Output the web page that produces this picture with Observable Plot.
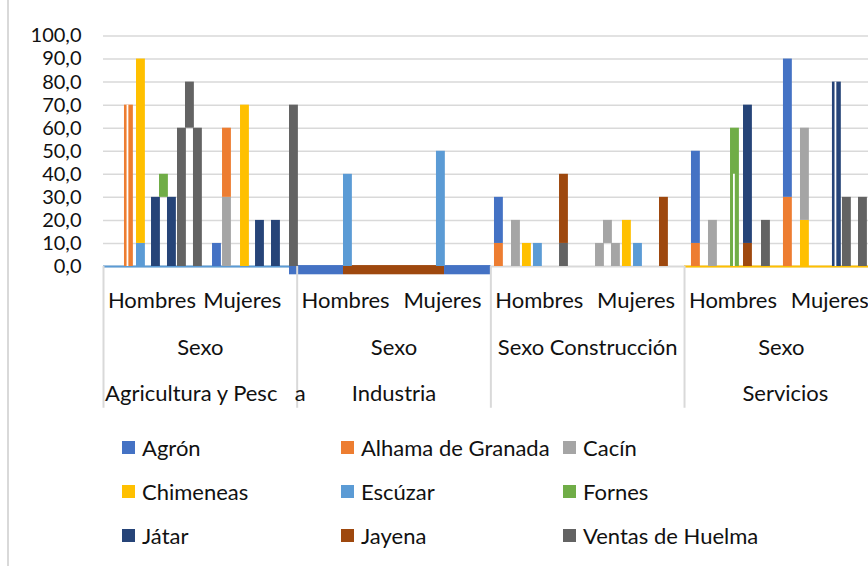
<!DOCTYPE html>
<html><head><meta charset="utf-8">
<script src="https://cdn.jsdelivr.net/npm/d3@7"></script>
<script src="https://cdn.jsdelivr.net/npm/@observablehq/plot@0.6"></script>
<style>
body{margin:0;background:#fff;overflow:hidden;font-family:Lato,sans-serif;}
#wrap{position:relative;width:868px;height:566px;overflow:hidden;}
#frame{position:absolute;left:7px;top:0;width:1.5px;height:566px;background:#d9d9d9;}
#legend{position:absolute;left:122px;top:425px;display:grid;grid-template-columns:219px 222px 220px;grid-auto-rows:44px;}
.item{display:flex;align-items:center;font-size:22px;color:#111;white-space:nowrap;}
.sw{width:13px;height:13px;margin-right:7px;flex:none;}
</style></head><body><div id="wrap"><div id="frame"></div><div id="chart"></div><div id="legend"></div></div>
<script>
const towns = ["Agrón","Alhama de Granada","Cacín","Chimeneas","Escúzar","Fornes","Játar","Jayena","Ventas de Huelma"];
const townColors = ["#4472C4","#ED7D31","#A5A5A5","#FFC000","#5B9BD5","#70AD47","#264478","#9E480E","#636363"];
const sectors = ["Agricultura y Pesca","Industria","Construcción","Servicios"];
const sexes = ["Hombres","Mujeres"];
const groupLabel = "Sexo";
const yTicks = [0,10,20,30,40,50,60,70,80,90,100];

// [category (sector*2+sex), slot within category, town, from, to]
const barSegments = [
  [0, 2.60, "Alhama de Granada", 0, 70],
  [0, 4.09, "Escúzar", 0, 10],
  [0, 4.09, "Chimeneas", 10, 90],
  [0, 5.95, "Játar", 0, 30],
  [0, 6.94, "Fornes", 30, 40],
  [0, 7.93, "Játar", 0, 30],
  [0, 9.17, "Ventas de Huelma", 0, 60],
  [0, 10.16, "Ventas de Huelma", 60, 80],
  [0, 11.15, "Ventas de Huelma", 0, 60],
  [1, 1.51, "Agrón", 0, 10],
  [1, 2.75, "Cacín", 0, 30],
  [1, 2.75, "Alhama de Granada", 30, 60],
  [1, 4.98, "Chimeneas", 0, 70],
  [1, 6.84, "Játar", 0, 20],
  [1, 8.82, "Játar", 0, 20],
  [1, 11.05, "Ventas de Huelma", 0, 70],
  [2, 5.74, "Escúzar", 0, 40],
  [3, 5.26, "Escúzar", 0, 50],
  [4, 0.45, "Alhama de Granada", 0, 10],
  [4, 0.45, "Agrón", 10, 30],
  [4, 2.56, "Cacín", 0, 20],
  [4, 3.92, "Chimeneas", 0, 10],
  [4, 5.28, "Escúzar", 0, 10],
  [4, 8.51, "Ventas de Huelma", 0, 10],
  [4, 8.51, "Jayena", 10, 40],
  [5, 0.97, "Cacín", 0, 10],
  [5, 1.96, "Cacín", 10, 20],
  [5, 2.95, "Cacín", 0, 10],
  [5, 4.31, "Chimeneas", 0, 20],
  [5, 5.68, "Escúzar", 0, 10],
  [5, 8.90, "Jayena", 0, 30],
  [6, 0.86, "Alhama de Granada", 0, 10],
  [6, 0.86, "Agrón", 10, 50],
  [6, 2.97, "Cacín", 0, 20],
  [6, 5.70, "Fornes", 0, 60],
  [6, 7.31, "Jayena", 0, 10],
  [6, 7.31, "Játar", 10, 70],
  [6, 9.54, "Ventas de Huelma", 0, 20],
  [7, 0.26, "Alhama de Granada", 0, 30],
  [7, 0.26, "Agrón", 30, 90],
  [7, 2.37, "Chimeneas", 0, 20],
  [7, 2.37, "Cacín", 20, 60],
  [7, 6.33, "Játar", 0, 80],
  [7, 7.57, "Ventas de Huelma", 0, 30],
  [7, 9.56, "Ventas de Huelma", 0, 30]
];
// white split lines inside some bars: [category, slot, from, to]
const splitLines = [[0, 2.97, 0, 70], [6, 6.12, 0, 40], [7, 6.70, 0, 80]];
// bars hanging below the axis: [town, fromCat, fromSlot, toCat, toSlot, value]
const belowAxis = [
  ["Agrón", 1, 11.05, 2, 5.74, -3.6],
  ["Jayena", 2, 5.74, 3, 6.26, -3.6],
  ["Agrón", 3, 6.26, 4, 0, -3.6]
];
// coloured stretches of the category axis line: [town, fromCat, fromSlot, toCat, toSlot]
const axisStretches = [["Escúzar", 0, 0, 1, 11.05], ["Chimeneas", 6, 0, 8, 0]];

const U = 12; // slots per category
const pos = (c, s) => c * U + s;
const categories = d3.range(8).map(i => ({i, label: sexes[i % 2]}));
const row2 = sectors.map((s, i) => ({i, label: s === "Construcción" ? `${groupLabel} ${s}` : groupLabel}));
const row3 = [
  {x: 0.2, label: "Agricultura y Pesc", anchor: "start"},
  {x: 23.7, label: "a", anchor: "start"},
  {x: 36, label: sectors[1], anchor: "middle"},
  {x: 84.5, label: sectors[3], anchor: "middle"}
];
const sepDepth = -61.5;

const chart = Plot.plot({
  width: 868, height: 420,
  marginLeft: 103, marginRight: 0, marginTop: 35.5, marginBottom: 154,
  style: {fontFamily: "Lato, sans-serif", fontSize: "20px", color: "#111", background: "white"},
  x: {domain: [0, 96], range: [103, 877.7], axis: null},
  y: {domain: [0, 100], range: [266, 35.5], ticks: yTicks,
      tickFormat: d => d.toFixed(1).replace(".", ","), tickSize: 0, tickPadding: 22, label: null},
  color: {domain: towns, range: townColors},
  marks: [
    Plot.ruleY(yTicks.filter(d => d > 0), {stroke: "#d9d9d9", strokeWidth: 1.5}),
    Plot.ruleY([0], {stroke: "#d9d9d9", strokeWidth: 2}),
    Plot.ruleY(axisStretches, {y: 0, x1: d => pos(d[1], d[2]), x2: d => pos(d[3], d[4]), stroke: d => d[0], strokeWidth: 2}),
    Plot.rect(belowAxis, {x1: d => pos(d[1], d[2]), x2: d => pos(d[3], d[4]), y1: 0.4, y2: d => d[5], fill: d => d[0]}),
    Plot.rect(barSegments, {x1: d => pos(d[0], d[1]), x2: d => pos(d[0], d[1]) + 1.1, y1: d => d[3], y2: d => d[4], fill: d => d[2]}),
    Plot.ruleX(splitLines, {x: d => pos(d[0], d[1]), y1: d => d[2], y2: d => d[3], stroke: "white", strokeWidth: 1.8}),
    Plot.ruleX([0, 24, 48, 72], {y1: 0, y2: sepDepth, stroke: "#d9d9d9", strokeWidth: 2}),
    Plot.text(categories, {x: d => d.i * U + U / 2 + (d.i === 1 ? -0.8 : 0), y: 0, dy: 34, text: "label", fontSize: 22, fill: "#111"}),
    Plot.text(row2, {x: d => d.i * 2 * U + U, y: 0, dy: 81, text: "label", fontSize: 22, fill: "#111"}),
    Plot.text(row3, {x: "x", y: 0, dy: 127, text: "label", textAnchor: "start", fontSize: 22, fill: "#111", filter: d => d.anchor === "start"}),
    Plot.text(row3, {x: "x", y: 0, dy: 127, text: "label", fontSize: 22, fill: "#111", filter: d => d.anchor === "middle"})
  ]
});
document.getElementById("chart").appendChild(chart);

const legend = document.getElementById("legend");
towns.forEach((t, i) => {
  const it = document.createElement("div");
  it.className = "item";
  it.innerHTML = `<span class="sw" style="background:${townColors[i]}"></span><span>${t}</span>`;
  legend.appendChild(it);
});
</script></body></html>
